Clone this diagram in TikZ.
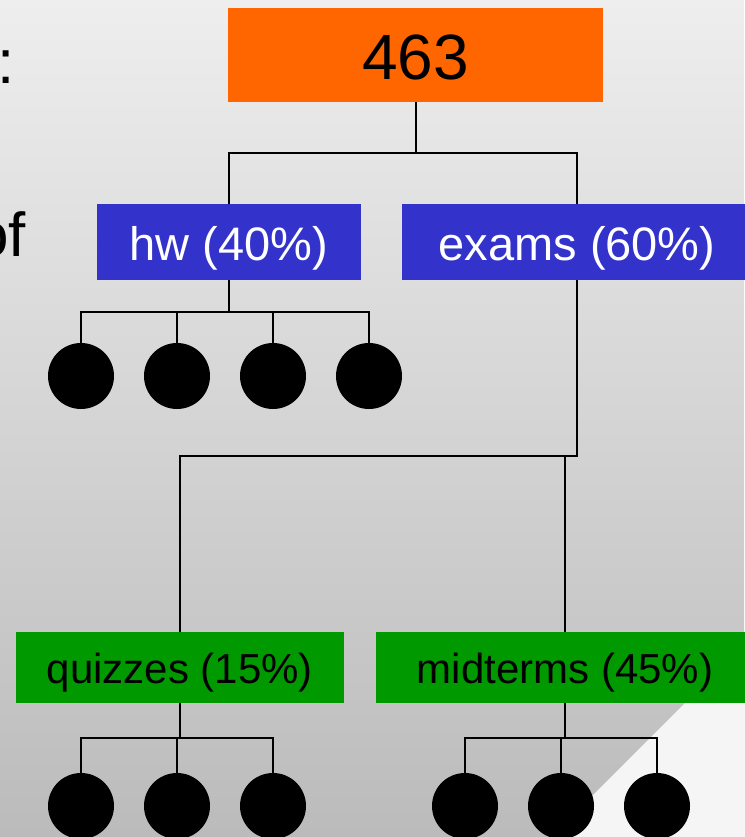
\documentclass[tikz,border=0pt]{standalone}
\usepackage{fontspec}
\setmainfont{Liberation Sans}
\usepackage{tikz}
\definecolor{rootorange}{HTML}{FF6600}
\definecolor{catblue}{HTML}{3333CC}
\definecolor{subgreen}{HTML}{009900}
\definecolor{slidetop}{HTML}{EEEEEE}
\definecolor{slidebottom}{HTML}{BBBBBB}
\definecolor{slidelight}{HTML}{F5F5F5}

\begin{document}
\begin{tikzpicture}[x=1pt,y=-1pt,
	box/.style={rectangle,inner sep=0pt,text depth=0pt},
	leaf/.style={circle,fill=black,inner sep=0pt,minimum size=66pt},
	link/.style={line width=2pt,black},
	]
	\useasboundingbox (0,0) rectangle (744,837);
	%slide background
	\fill[top color=slidetop,bottom color=slidebottom] (0,0) rectangle (744,837);
	\fill[slidelight] (744,644) -- (744,837) -- (551,837) -- cycle;
	\node[anchor=base west,inner sep=0pt,font=\fontsize{62}{62}\selectfont] (colon) at (-3,84) {:};
	\node[anchor=base east,inner sep=0pt,font=\fontsize{62}{62}\selectfont] (of) at (26,256) {of};
	%boxes
	\node[box,fill=rootorange,minimum width=375pt,minimum height=94pt,text height=50pt,font=\fontsize{64}{64}\selectfont] (root) at (415.5,55) {463};
	\node[box,fill=catblue,text=white,minimum width=264pt,minimum height=76pt,text height=36pt,font=\fontsize{47}{47}\selectfont] (hw) at (229,242) {hw (40\%)};
	\node[box,fill=catblue,text=white,minimum width=350pt,minimum height=76pt,text height=36pt,font=\fontsize{47}{47}\selectfont] (exams) at (577,242) {exams (60\%)};
	\node[box,fill=subgreen,minimum width=328pt,minimum height=71pt,text height=31pt,font=\fontsize{42}{42}\selectfont] (quiz) at (180,667.5) {quizzes (15\%)};
	\node[box,fill=subgreen,minimum width=378pt,minimum height=71pt,text height=31pt,font=\fontsize{42}{42}\selectfont] (mid) at (565,667.5) {midterms (45\%)};
	%leaves
	\node[leaf] (h1) at (81,376) {};
	\node[leaf] (h2) at (177,376) {};
	\node[leaf] (h3) at (273,376) {};
	\node[leaf] (h4) at (369,376) {};
	\node[leaf] (q1) at (81,806) {};
	\node[leaf] (q2) at (177,806) {};
	\node[leaf] (q3) at (273,806) {};
	\node[leaf] (m1) at (465,806) {};
	\node[leaf] (m2) at (561,806) {};
	\node[leaf] (m3) at (657,806) {};
	%junctions
	\coordinate (rootj) at (415.5,153);
	\coordinate (hwj) at (229,312);
	\coordinate (examsj) at (577,456);
	\coordinate (quizj) at (180,738);
	\coordinate (midj) at (565,738);
	%connectors
	\draw[link] (root.south) -- (rootj);
	\draw[link] (hw.north) |- (rootj) -| (exams.north);
	\draw[link] (hw.south) -- (hwj);
	\draw[link] (h1.north) |- (hwj) -| (h4.north);
	\draw[link] (h2.north) -- (h2.north |- hwj);
	\draw[link] (h3.north) -- (h3.north |- hwj);
	\draw[link] (exams.south) -- (examsj) -| (quiz.north);
	\draw[link] (mid.north) -- (mid.north |- examsj);
	\draw[link] (quiz.south) -- (quizj);
	\draw[link] (q1.north) |- (quizj) -| (q3.north);
	\draw[link] (q2.north) -- (q2.north |- quizj);
	\draw[link] (mid.south) -- (midj);
	\draw[link] (m1.north) |- (midj) -| (m3.north);
	\draw[link] (m2.north) -- (m2.north |- midj);
\end{tikzpicture}
\end{document}
